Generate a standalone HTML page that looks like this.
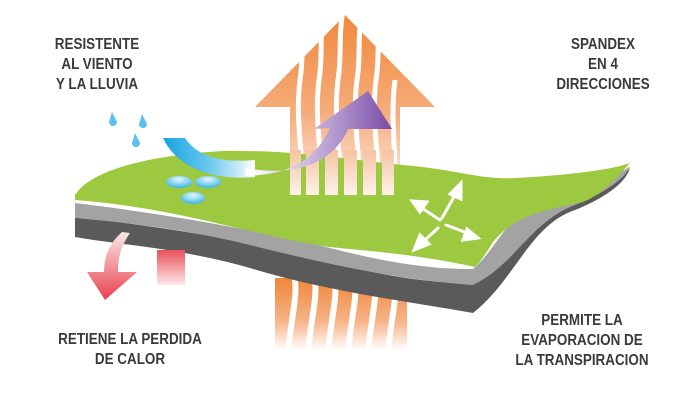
<!DOCTYPE html>
<html><head><meta charset="utf-8"><style>
html,body{margin:0;padding:0;background:#fff;}
.t{position:absolute;font-family:"Liberation Sans",sans-serif;font-weight:bold;font-size:16px;color:#3a3a3a;text-align:center;line-height:20px;transform:scaleX(0.84);transform-origin:center top;}
</style></head><body>
<div style="position:relative;width:700px;height:400px;overflow:hidden;">
<svg width="700" height="400" viewBox="0 0 700 400" style="position:absolute;left:0;top:0">
<defs>
<linearGradient id="og" gradientUnits="userSpaceOnUse" x1="0" y1="15" x2="0" y2="195">
<stop offset="0" stop-color="#f0883c"/><stop offset="0.55" stop-color="#f6ad7c"/><stop offset="1" stop-color="#fdf0e8"/></linearGradient>
<linearGradient id="og2" gradientUnits="userSpaceOnUse" x1="0" y1="280" x2="0" y2="350">
<stop offset="0" stop-color="#f0883c"/><stop offset="0.6" stop-color="#f7b58a"/><stop offset="1" stop-color="#ffffff"/></linearGradient>
<linearGradient id="bg" gradientUnits="userSpaceOnUse" x1="165" y1="0" x2="255" y2="0">
<stop offset="0" stop-color="#1aa6e0"/><stop offset="0.5" stop-color="#6cc8ee"/><stop offset="1" stop-color="#ffffff"/></linearGradient>
<linearGradient id="pg" gradientUnits="userSpaceOnUse" x1="250" y1="0" x2="390" y2="0">
<stop offset="0" stop-color="#ffffff"/><stop offset="0.6" stop-color="#b49ad0"/><stop offset="1" stop-color="#7a4ea6"/></linearGradient>
<linearGradient id="rg" gradientUnits="userSpaceOnUse" x1="0" y1="235" x2="0" y2="300">
<stop offset="0" stop-color="#fbe0e2"/><stop offset="1" stop-color="#e8404c"/></linearGradient>
<linearGradient id="rg2" gradientUnits="userSpaceOnUse" x1="0" y1="250" x2="0" y2="285">
<stop offset="0" stop-color="#e8505a"/><stop offset="1" stop-color="#fde8ea"/></linearGradient>
<linearGradient id="sb" gradientUnits="userSpaceOnUse" x1="0" y1="150" x2="0" y2="195">
<stop offset="0" stop-color="#f6c3a0"/><stop offset="1" stop-color="#fdf2ea"/></linearGradient>
<radialGradient id="dg" cx="0.5" cy="0.3" r="0.7"><stop offset="0" stop-color="#e6f7fd"/><stop offset="1" stop-color="#3ab4e8"/></radialGradient>
</defs>
<rect x="275" y="278" width="132" height="75" fill="url(#og2)"/>
<g stroke="#fff" stroke-width="6" fill="none">
<path d="M294,275 C299,295 290,320 288,355"/>
<path d="M314,275 C319,295 310,320 308,355"/>
<path d="M334,275 C339,295 330,320 328,355"/>
<path d="M354,275 C359,295 350,320 348,355"/>
<path d="M374,275 C379,295 370,320 368,355"/>
<path d="M394,275 C399,295 390,320 388,355"/>
</g>
<path d="M345,15 L435,107 L400,107 L400,195 L290,195 L290,107 L255,107 Z" fill="url(#og)"/>
<g stroke="#fff" stroke-width="5" fill="none">
<path d="M303,200 C303,150 295,120 300,80 C304,55 300,40 305,20"/>
<path d="M322,200 C322,150 314,120 319,80 C323,55 319,40 324,10"/>
<path d="M341,200 C341,150 333,120 338,80 C342,55 338,40 343,10"/>
<path d="M360,200 C360,150 352,120 357,80 C361,55 357,40 362,10"/>
<path d="M379,200 C379,150 371,120 376,80 C380,55 376,40 381,20"/>
<path d="M396,200 C396,150 390,120 395,80"/>
</g>
<path d="M75,217 C150,225 250,240 330,262 C400,280 440,283 473,283 C500,260 510,215 560,198 C600,188 620,180 630,168 C625,185 600,200 575,210 C530,225 515,280 473,313 C400,300 330,292 250,268 C180,248 120,245 75,237 Z" fill="#5a5a5a"/>
<path d="M75,203 C150,212 250,228 330,248 C400,266 440,269 473,269 C500,246 510,205 560,190 C600,180 620,175 630,166 C625,180 600,195 575,205 C530,222 515,265 473,285 C400,280 330,265 250,245 C180,228 120,222 75,218 Z" fill="#a3a3a3"/>
<path d="M75,195 C90,170 150,155 224,151 C300,150 350,160 403,165 C460,170 480,180 516,178 C570,175 610,170 630,163 C610,185 600,195 583,202 C545,210 515,215 493,242 C485,255 480,262 475,267 C420,255 380,252 329,247 C250,235 180,208 75,200 Z" fill="#9cc93f"/>
<g fill="url(#sb)">
<rect x="290" y="150" width="11" height="45"/><rect x="306" y="150" width="13" height="45"/><rect x="325" y="150" width="13" height="45"/><rect x="344" y="150" width="13" height="45"/><rect x="363" y="150" width="13" height="45"/><rect x="382" y="150" width="12" height="45"/>
</g>
<ellipse cx="179" cy="182" rx="13" ry="6" fill="url(#dg)"/>
<ellipse cx="208" cy="182" rx="13" ry="6" fill="url(#dg)"/>
<ellipse cx="193" cy="198" rx="12" ry="6" fill="url(#dg)"/>
<path d="M163,138 L185,138 C197,156 220,163 255,160 L255,177 C210,181 176,166 163,138 Z" fill="url(#bg)"/>
<path d="M245,176 C290,175 315,160 330,128 L314,129 L368,91 L392,129 L348,129 C335,160 300,178 245,168 Z" fill="url(#pg)"/>
<g fill="#5cc0ec">
<path d="M112,112 L117,122 A4,4 0 1 1 109,122 Z"/>
<path d="M142,114 L147,124 A4,4 0 1 1 139,124 Z"/>
<path d="M135,133 L140,143 A4,4 0 1 1 132,143 Z"/>
</g>
<g fill="#fff" stroke="#fff" stroke-width="3" stroke-linecap="round">
<line x1="440" y1="220" x2="420" y2="207"/><path d="M412,201 L427,202 L420,212 Z"/>
<line x1="442" y1="218" x2="455" y2="195"/><path d="M461,183 L461,199 L450,194 Z"/>
<line x1="446" y1="225" x2="467" y2="233"/><path d="M478,238 L463,240 L467,229 Z"/>
<line x1="438" y1="228" x2="425" y2="240"/><path d="M414,250 L420,235 L429,244 Z"/>
</g>
<path d="M130,233 C122,245 118,255 118,272 L137,272 L105,300 L87,272 L104,272 C104,255 110,243 122,232 Z" fill="url(#rg)"/>
<rect x="157" y="250" width="28" height="35" fill="url(#rg2)"/>
</svg>
<div class="t" style="left:17px;top:35px;width:160px;">RESISTENTE<br>AL VIENTO<br>Y LA LLUVIA</div>
<div class="t" style="left:523px;top:35px;width:160px;">SPANDEX<br>EN 4<br>DIRECCIONES</div>
<div class="t" style="left:20px;top:330px;width:220px;">RETIENE LA PERDIDA<br>DE CALOR</div>
<div class="t" style="left:482px;top:311px;width:200px;">PERMITE LA<br>EVAPORACION DE<br>LA TRANSPIRACION</div>
</div>
</body></html>
